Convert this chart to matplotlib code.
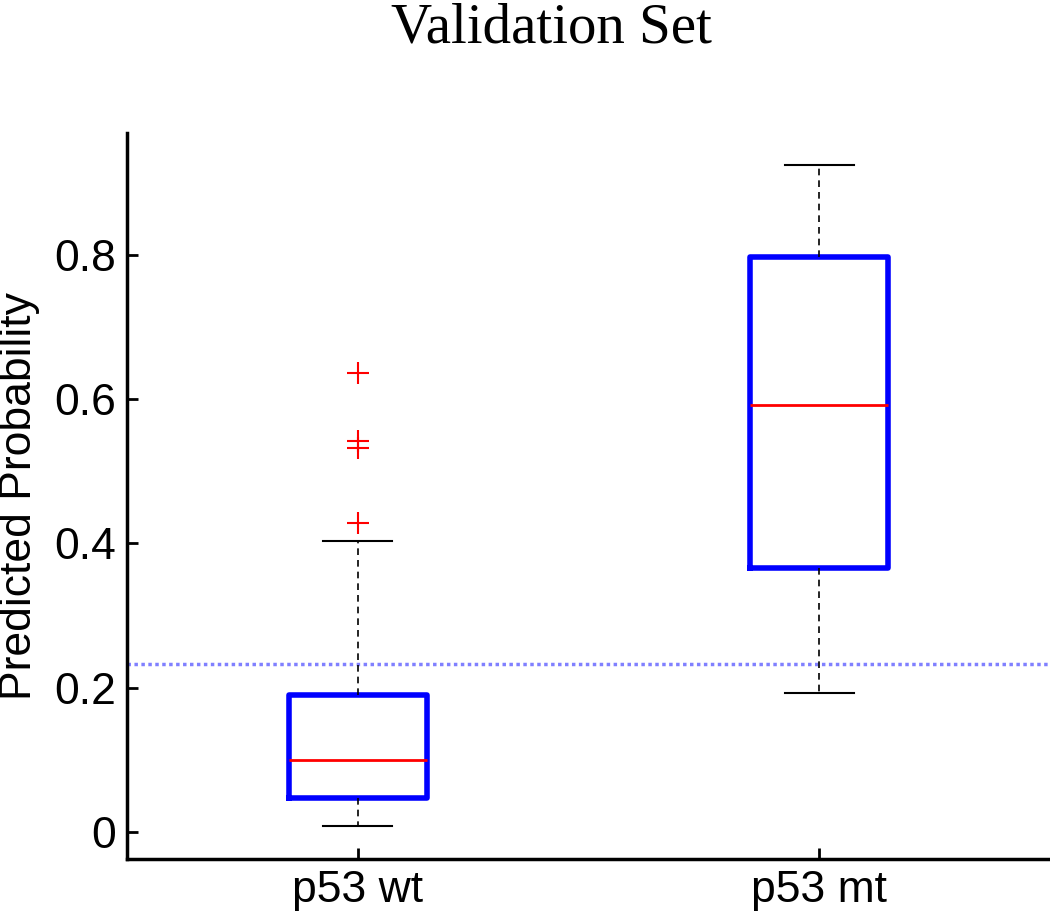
import numpy as np
import matplotlib
matplotlib.use("Agg")
from matplotlib import pyplot as plt

# box stats
groups = ["p53 wt", "p53 mt"]
whislo = [0.008, 0.1925]
q1 = [0.047, 0.366]
med = [0.0997, 0.591]
q3 = [0.190, 0.796]
whishi = [0.403, 0.924]
fliers = [[0.428, 0.532, 0.542, 0.636], []]
cutoff = 0.233

yticks = [0, 0.2, 0.4, 0.6, 0.8]
ytick_labels = ["0", "0.2", "0.4", "0.6", "0.8"]

stats = []
for i in range(len(groups)):
    stats.append(dict(label=groups[i], whislo=whislo[i], q1=q1[i], med=med[i],
                      q3=q3[i], whishi=whishi[i], fliers=fliers[i]))

fig = plt.figure(figsize=(10.5, 9.19), dpi=100)
ax = fig.add_axes([0.121, 0.0653, 0.879, 0.7897])

ax.axhline(cutoff, color="#8080ff", linestyle=(0, (1, 1)), linewidth=2.5, zorder=1)

ax.bxp(stats, positions=[1, 2], widths=0.3,
       boxprops=dict(color="#0000ff", linewidth=4),
       medianprops=dict(color="#ff0000", linewidth=2),
       whiskerprops=dict(color="black", linestyle=(0, (4, 3)), linewidth=1.2),
       capprops=dict(color="black", linewidth=1.5),
       flierprops=dict(marker="+", markeredgecolor="#ff0000", markersize=16,
                       markeredgewidth=1.5, linestyle="none"),
       zorder=3)

ax.set_xlim(0.5, 2.5)
ax.set_ylim(-0.0374, 0.968)
ax.set_yticks(yticks)
ax.set_yticklabels(ytick_labels)
ax.set_xticks([1, 2])
ax.set_xticklabels(groups)

for s in ["top", "right"]:
    ax.spines[s].set_visible(False)
for s in ["left", "bottom"]:
    ax.spines[s].set_linewidth(2.5)

ax.tick_params(direction="in", length=8, width=2, labelsize=32, pad=8)
for lab in ax.get_xticklabels() + ax.get_yticklabels():
    lab.set_family("Liberation Sans")

ax.set_ylabel("Predicted Probability", fontsize=32, family="Liberation Sans", labelpad=10)

fig.text(0.525, 0.969, "Validation Set", ha="center", va="center",
         fontsize=41, family="Liberation Serif")

fig.savefig("out.png", dpi=100)
